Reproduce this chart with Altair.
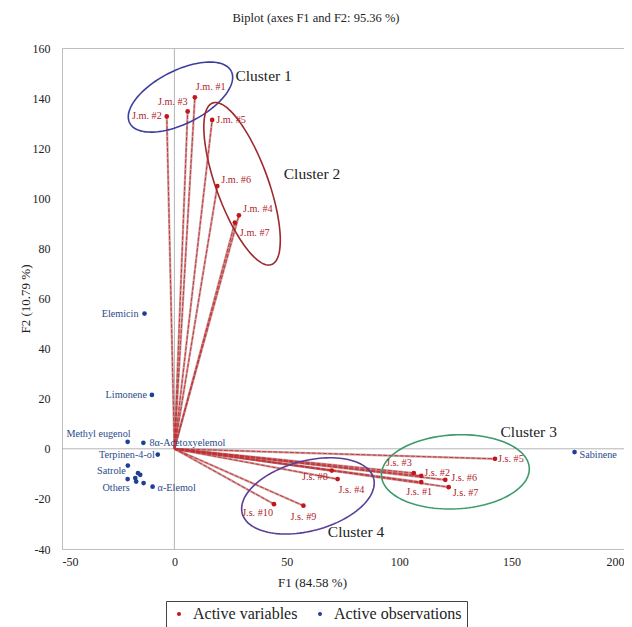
import altair as alt
import numpy as np
import pandas as pd

# ---------------- data ----------------
var_labels = ["J.m. #1", "J.m. #3", "J.m. #2", "J.m. #5", "J.m. #6", "J.m. #4", "J.m. #7",
              "J.s. #10", "J.s. #9", "J.s. #8", "J.s. #4",
              "J.s. #5", "J.s. #3", "J.s. #2", "J.s. #1", "J.s. #6", "J.s. #7"]
var_x = [9.1, 5.9, -3.4, 16.8, 19.1, 28.7, 26.9,
         44.3, 57.4, 70.0, 72.6,
         142.6, 106.5, 109.8, 109.8, 120.5, 122.0]
var_y = [140.3, 134.7, 132.7, 131.3, 104.9, 93.2, 90.3,
         -22.1, -22.7, -8.7, -12.1,
         -4.0, -9.7, -10.8, -13.3, -12.4, -15.3]

obs_labels = ["Elemicin", "Limonene", "Methyl eugenol", "8α-Acetoxyelemol", "Terpinen-4-ol",
              "Satrole", "", "", "", "Others", "", "", "α-Elemol", "Sabinene"]
obs_x = [-13.3, -10.0, -20.8, -13.8, -7.4, -20.7, -16.2, -15.2, -17.4, -20.8, -17.0, -13.7, -9.7, 178.0]
obs_y = [54.0, 21.5, 2.8, 2.4, -2.3, -6.7, -9.7, -10.4, -11.7, -12.1, -13.1, -13.7, -15.1, -1.3]

cluster_names = ["Cluster 1", "Cluster 2", "Cluster 3", "Cluster 4"]
cluster_label_x = [39.7, 61.2, 157.6, 80.8]
cluster_label_y = [148.8, 109.6, 6.8, -33.2]
cluster_cx = [2.7, 30.1, 125.0, 59.4]
cluster_cy = [140.4, 105.8, -9.2, -18.8]

x_ticks = [-50, 0, 50, 100, 150, 200]
y_ticks = [-40, -20, 0, 20, 40, 60, 80, 100, 120, 140, 160]

# ---------------- styling ----------------
W, H = 562, 501
XDOM, YDOM = [-50, 200], [-40, 160]
FONT = "Liberation Serif"
RED = "#c0161c"
LABEL_RED = "#b0232a"
BLUE = "#1f3f93"
LABEL_BLUE = "#2a4a8a"

# ellipse shapes (pixel semi-axes and screen rotation in degrees)
ELLIPSE_SHAPE = {
    "Cluster 1": (57, 26.5, -27, "#3c3f9c"),
    "Cluster 2": (86, 26, 70, "#9e2a2e"),
    "Cluster 3": (74, 37, -3, "#3d9a6b"),
    "Cluster 4": (68, 35, -15, "#5a3d96"),
}

# label placement: (align, dx, dy)
VAR_POS = {
    "J.m. #1": ("left", 1, -10), "J.m. #3": ("right", 0, -9), "J.m. #2": ("right", -5, 0),
    "J.m. #5": ("left", 4, 0), "J.m. #6": ("left", 4, -6), "J.m. #4": ("left", 4, -6),
    "J.m. #7": ("left", 5, 10), "J.s. #10": ("right", -1, 9), "J.s. #9": ("center", 0, 11),
    "J.s. #8": ("right", -4, 6), "J.s. #4": ("left", 1, 11), "J.s. #5": ("left", 3, 0),
    "J.s. #3": ("right", -2, -10), "J.s. #2": ("left", 3, -3), "J.s. #1": ("center", -2, 10),
    "J.s. #6": ("left", 6, -2), "J.s. #7": ("left", 4, 6),
}
OBS_POS = {
    "Elemicin": ("right", -6, 0), "Limonene": ("right", -5, 0), "Methyl eugenol": ("right", 3, -8),
    "8α-Acetoxyelemol": ("left", 6, 0), "Terpinen-4-ol": ("right", -3, 0),
    "Satrole": ("right", -2, 5), "Others": ("right", 2, 9), "α-Elemol": ("left", 5, 1),
    "Sabinene": ("left", 5, 3),
}

xs = alt.Scale(domain=XDOM, nice=False, zero=False)
ys = alt.Scale(domain=YDOM, nice=False, zero=False)
sx = W / (XDOM[1] - XDOM[0])
sy = H / (YDOM[1] - YDOM[0])
HYPHEN = "datum.value < 0 ? '-' + abs(datum.value) : '' + datum.value"

var_df = pd.DataFrame({"label": var_labels, "x": var_x, "y": var_y, "type": "Active variables"})
obs_df = pd.DataFrame({"label": obs_labels, "x": obs_x, "y": obs_y, "type": "Active observations"})

# vectors from origin
rows = []
for lab, x, y in zip(var_labels, var_x, var_y):
    rows.append({"label": lab, "x": 0.0, "y": 0.0, "o": 0})
    rows.append({"label": lab, "x": x, "y": y, "o": 1})
vec_df = pd.DataFrame(rows)

layers = []

# zero lines
layers.append(alt.Chart(pd.DataFrame({"v": [0]})).mark_rule(color="#b5b5b5", strokeWidth=1).encode(
    x=alt.X("v:Q", scale=xs)))
layers.append(alt.Chart(pd.DataFrame({"v": [0]})).mark_rule(color="#b5b5b5", strokeWidth=1).encode(
    y=alt.Y("v:Q", scale=ys)))

# vectors (outlined double line look)
layers.append(alt.Chart(vec_df).mark_line(color="#a86060", strokeWidth=2.2, opacity=0.6).encode(
    x=alt.X("x:Q", scale=xs), y=alt.Y("y:Q", scale=ys), detail="label:N", order="o:Q"))
layers.append(alt.Chart(vec_df).mark_line(color="#cc2a30", strokeWidth=1.0, opacity=0.9,
                                          strokeDash=[4, 1.5]).encode(
    x=alt.X("x:Q", scale=xs), y=alt.Y("y:Q", scale=ys), detail="label:N", order="o:Q"))

# ellipses
t = np.linspace(0, 2 * np.pi, 121)
for name, cx, cy in zip(cluster_names, cluster_cx, cluster_cy):
    a, b, ang, col = ELLIPSE_SHAPE[name]
    th = np.deg2rad(ang)
    px = a * np.cos(t) * np.cos(th) - b * np.sin(t) * np.sin(th)
    py = a * np.cos(t) * np.sin(th) + b * np.sin(t) * np.cos(th)
    edf = pd.DataFrame({"x": cx + px / sx, "y": cy - py / sy, "o": np.arange(len(t))})
    layers.append(alt.Chart(edf).mark_line(color=col, strokeWidth=1.6).encode(
        x=alt.X("x:Q", scale=xs), y=alt.Y("y:Q", scale=ys), order="o:Q"))

# points
color_scale = alt.Scale(domain=["Active variables", "Active observations"], range=[RED, BLUE])
for df in (var_df, obs_df):
    layers.append(alt.Chart(df).mark_circle(size=22, opacity=1).encode(
        x=alt.X("x:Q", scale=xs, title="F1 (84.58 %)",
                axis=alt.Axis(values=x_ticks, titleX=250, labelExpr=HYPHEN,
                              labelFont=FONT, titleFont=FONT)),
        y=alt.Y("y:Q", scale=ys, title="F2 (10.79 %)",
                axis=alt.Axis(values=y_ticks, labelExpr=HYPHEN, labelFont=FONT, titleFont=FONT)),
        color=alt.Color("type:N", scale=color_scale, title=None,
                        legend=alt.Legend(labelFont=FONT))))

# point labels
for df, pos, col in ((var_df, VAR_POS, LABEL_RED), (obs_df, OBS_POS, LABEL_BLUE)):
    for lab, (al, dx, dy) in pos.items():
        sub = df[df["label"] == lab]
        layers.append(alt.Chart(sub).mark_text(align=al, baseline="middle", dx=dx, dy=dy,
                                               font=FONT, fontSize=10.2, color=col).encode(
            x=alt.X("x:Q", scale=xs), y=alt.Y("y:Q", scale=ys), text="label:N"))

# cluster labels
cl_df = pd.DataFrame({"name": cluster_names, "x": cluster_label_x, "y": cluster_label_y})
layers.append(alt.Chart(cl_df).mark_text(font=FONT, fontSize=15.5, color="#222222").encode(
    x=alt.X("x:Q", scale=xs), y=alt.Y("y:Q", scale=ys), text="name:N"))

chart = alt.layer(*layers).properties(
    width=W, height=H,
    title=alt.TitleParams("Biplot (axes F1 and F2: 95.36 %)", font=FONT, fontSize=12.5,
                          fontWeight="normal", color="#222222", offset=18, dx=-27),
    autosize=alt.AutoSizeParams(type="none"),
    padding={"left": 54, "top": 40, "right": 0, "bottom": 78},
).configure(font=FONT).configure_view(stroke="#bdbdbd", strokeWidth=1).configure_axis(
    grid=False, domain=False, ticks=False, labelFont=FONT, labelFontSize=12, labelColor="#222222",
    titleFont=FONT, titleFontSize=13, titleFontWeight="normal", titleColor="#222222",
).configure_axisY(labelPadding=12, titlePadding=0).configure_axisX(labelPadding=7, titlePadding=9
).configure_legend(
    orient="none", legendX=104, legendY=553, direction="horizontal", strokeColor="#444444",
    padding=5, labelFont=FONT, labelFontSize=16, labelColor="#222222", symbolSize=16,
    symbolType="circle", columnPadding=14, labelLimit=300, labelOffset=6,
)

chart.save("out.html", embed_options={"renderer": "svg", "actions": False})
